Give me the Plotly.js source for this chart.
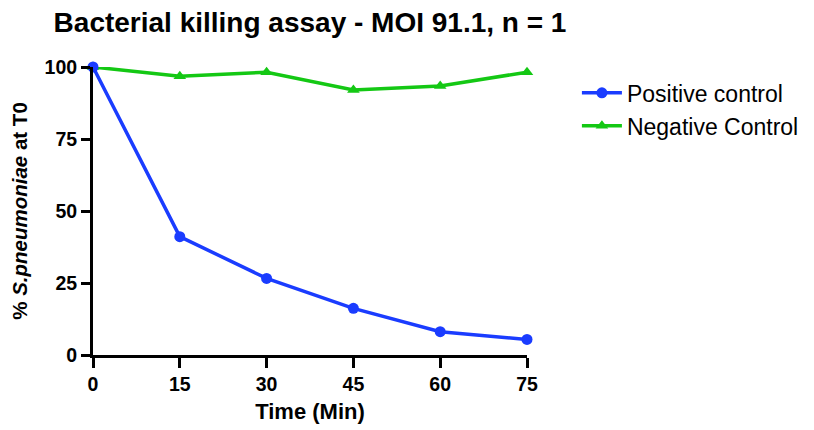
<!DOCTYPE html>
<html>
<head>
<meta charset="utf-8">
<script src="https://cdn.plot.ly/plotly-3.0.1.min.js"></script>
<style>html,body{margin:0;padding:0;background:#fff}#chart{width:814px;height:430px}</style>
</head>
<body>
<div id="chart"></div>
<script>
const timeMin = [0, 15, 30, 45, 60, 75];
const positiveControl = [100, 41.1, 26.6, 16.2, 8.1, 5.4];
const negativeControl = [100, 96.8, 98.2, 92.0, 93.4, 98.2];
const xTicks = [0, 15, 30, 45, 60, 75];
const yTicks = [0, 25, 50, 75, 100];

const blue = '#1a3cff';
const green = '#14c814';

const traces = [
  {
    x: timeMin, y: negativeControl, name: 'Negative Control', legendrank: 2,
    mode: 'lines+markers', type: 'scatter', cliponaxis: false,
    line: {color: green, width: 3.5},
    marker: {color: green, size: 11, symbol: 'triangle-up'}
  },
  {
    x: timeMin, y: positiveControl, name: 'Positive control', legendrank: 1,
    mode: 'lines+markers', type: 'scatter', cliponaxis: false,
    line: {color: blue, width: 3.5},
    marker: {color: blue, size: 11, symbol: 'circle'}
  }
];

const fam = 'Liberation Sans, Arial, sans-serif';
const tickFont = {family: fam, size: 19.5, color: '#000', weight: 'bold'};
const titleFont = {family: fam, size: 22, color: '#000', weight: 'bold'};

const layout = {
  width: 814, height: 430,
  paper_bgcolor: '#fff', plot_bgcolor: '#fff',
  margin: {l: 93, r: 287, t: 67, b: 75, autoexpand: false},
  font: {family: fam, color: '#000'},
  title: {
    text: 'Bacterial killing assay - MOI 91.1, n = 1',
    font: {family: fam, size: 28, color: '#000', weight: 'bold'},
    x: 0.5, xref: 'paper', xanchor: 'center', y: 0.948, yanchor: 'middle'
  },
  xaxis: {
    range: [0, 75], tickvals: xTicks, ticktext: xTicks.map(String),
    showgrid: false, zeroline: false, showline: true, linecolor: '#000', linewidth: 3,
    ticks: 'outside', ticklen: 10, tickwidth: 3, tickcolor: '#000',
    tickfont: tickFont,
    title: {text: 'Time (Min)', font: titleFont, standoff: 10}
  },
  yaxis: {
    range: [0, 100], tickvals: yTicks, ticktext: yTicks.map(String),
    showgrid: false, zeroline: false, showline: true, linecolor: '#000', linewidth: 3,
    ticks: 'outside', ticklen: 9, tickwidth: 3, tickcolor: '#000',
    tickfont: tickFont,
    title: {text: '% <i>S.pneumoniae</i> at T0', font: {family: fam, size: 20.5, color: '#000', weight: 'bold'}, standoff: 12}
  },
  legend: {
    x: 1.115, xanchor: 'left', y: 0.985, yanchor: 'top',
    font: {family: fam, size: 23, color: '#000'},
    itemwidth: 40,
    bgcolor: 'rgba(0,0,0,0)', tracegroupgap: 0
  },
  showlegend: true
};

Plotly.newPlot('chart', traces, layout, {displayModeBar: false, staticPlot: true});
</script>
</body>
</html>
